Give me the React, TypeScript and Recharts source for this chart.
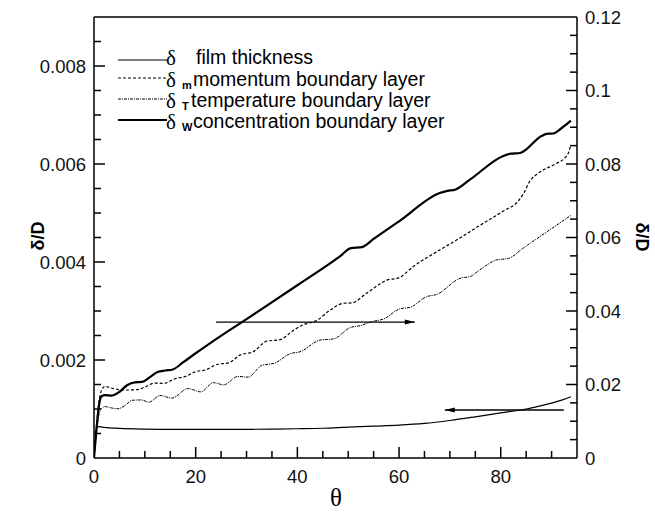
import React from 'react';
import { LineChart, Line, XAxis, YAxis, ReferenceLine, Customized } from 'recharts';

// film thickness, read on the left axis
const filmTheta = [0, 0.25, 0.5, 1, 2, 5, 10, 15, 20, 25, 30, 35, 40, 45, 50, 55, 60, 65, 70, 75, 80, 85, 88, 90, 92, 93.8];
const filmValue = [0, 0.00035, 0.00062, 0.00064, 0.000625, 0.000605, 0.00059, 0.000585, 0.000583, 0.000583, 0.000585, 0.00059, 0.000597, 0.000607, 0.00063, 0.00065, 0.00067, 0.000705, 0.000765, 0.00084, 0.00092, 0.001, 0.00107, 0.00112, 0.00118, 0.00125];

// boundary layers, read on the right axis
const momentumTheta = [0, 0.5, 1, 1.5, 2.2, 3, 4.5, 6.5, 8.5, 10, 12, 13.8, 15.8, 18, 20, 22, 24.3, 26.5, 28.7, 31.3, 34, 36.6, 39.2, 41.2, 43.8, 46.4, 49, 50.7, 53.6, 57.6, 59.9, 62.8, 68, 71.3, 75.9, 80.5, 83.5, 84.5, 85.8, 87.1, 91, 92.5, 93.3, 93.8];
const momentumValue = [0, 0.009, 0.0155, 0.0185, 0.0195, 0.0192, 0.0187, 0.0185, 0.0186, 0.0193, 0.0204, 0.0203, 0.0215, 0.0222, 0.0235, 0.024, 0.0255, 0.0259, 0.028, 0.0289, 0.0318, 0.0322, 0.0347, 0.0363, 0.0374, 0.0402, 0.0421, 0.0422, 0.0448, 0.0484, 0.049, 0.0521, 0.0566, 0.0593, 0.0633, 0.0672, 0.07, 0.072, 0.0755, 0.0772, 0.0802, 0.0815, 0.083, 0.0852];

const tempTheta = [0, 0.5, 1, 1.5, 2.2, 3.5, 4.7, 6, 7.5, 9.3, 10.8, 13, 15.3, 18.5, 21, 23.5, 25.5, 28.3, 30.3, 33, 35.5, 38.6, 40.5, 44.5, 47.1, 50.4, 52.3, 54.9, 56.9, 60.2, 62.2, 65.4, 67.4, 72, 74, 75.9, 79.2, 81.5, 84.4, 93.8];
const tempValue = [0, 0.007, 0.012, 0.0135, 0.014, 0.0136, 0.0134, 0.0142, 0.0157, 0.0158, 0.0152, 0.017, 0.0163, 0.0189, 0.018, 0.0205, 0.0199, 0.0222, 0.022, 0.0252, 0.0258, 0.0284, 0.0289, 0.0321, 0.0324, 0.0355, 0.036, 0.0372, 0.0378, 0.0406, 0.041, 0.0439, 0.0445, 0.0489, 0.0494, 0.0512, 0.0539, 0.0543, 0.0571, 0.066];

const concTheta = [0, 0.5, 1, 1.5, 2.2, 3.5, 5, 6.5, 8, 9.5, 11, 12.5, 14, 15.5, 17.5, 20, 22.8, 30, 40, 48.5, 50.5, 52.7, 55, 60, 68, 69.5, 71, 74, 80.5, 82, 83.8, 88, 89, 90.3, 92, 93.8];
const concValue = [0, 0.008, 0.0145, 0.0168, 0.0171, 0.017, 0.018, 0.0198, 0.0206, 0.0207, 0.022, 0.0234, 0.0238, 0.0241, 0.026, 0.0285, 0.0312, 0.0378, 0.047, 0.055, 0.0571, 0.0574, 0.0596, 0.0644, 0.0721, 0.0727, 0.073, 0.0758, 0.0822, 0.0828, 0.083, 0.0876, 0.0882, 0.0883, 0.0898, 0.0918];

const xTicks = [0, 5, 10, 15, 20, 25, 30, 35, 40, 45, 50, 55, 60, 65, 70, 75, 80, 85, 90];
const leftTicks = [0, 0.0005, 0.001, 0.0015, 0.002, 0.0025, 0.003, 0.0035, 0.004, 0.0045, 0.005, 0.0055, 0.006, 0.0065, 0.007, 0.0075, 0.008, 0.0085];
const rightTicks = [0, 0.005, 0.01, 0.015, 0.02, 0.025, 0.03, 0.035, 0.04, 0.045, 0.05, 0.055, 0.06, 0.065, 0.07, 0.075, 0.08, 0.085, 0.09, 0.095, 0.1, 0.105, 0.11, 0.115, 0.12];

const X_DOMAIN = [0, 95];
const LEFT_DOMAIN = [0, 0.009];
const RIGHT_DOMAIN = [0, 0.12];

const zip = (t: number[], v: number[]) => t.map((x, i) => ({ t: x, v: v[i] }));

const film = zip(filmTheta, filmValue);
const momentum = zip(momentumTheta, momentumValue);
const temperature = zip(tempTheta, tempValue);
const concentration = zip(concTheta, concValue);

const SANS = '"Liberation Sans", Arial, Helvetica, sans-serif';
const SERIF = '"Liberation Serif", "Times New Roman", serif';
const AX = '#000';
const MAJOR = 11;
const MINOR = 7;
const TICK_FONT = 18.5;

const isMajorX = (v: number) => v % 20 === 0;
const isMajorLeft = (v: number) => Math.round(v * 10000) % 20 === 0;
const isMajorRight = (v: number) => Math.round(v * 1000) % 20 === 0;

// bottom axis: inward mark + label for the majors
const BottomTick = ({ x, y, payload }: any) => {
  const v = payload.value;
  const major = isMajorX(v);
  return (
    <g>
      {v > 0 && <path d={`M${x},${y}V${y - (major ? MAJOR : MINOR)}`} stroke={AX} strokeWidth={1.5} fill="none" />}
      {major && (
        <text x={x} y={y + 25} textAnchor="middle" fontSize={TICK_FONT} fontFamily={SANS} fill="#111">
          {v}
        </text>
      )}
    </g>
  );
};

// top axis: marks only
const TopTick = ({ x, y, payload }: any) => {
  const v = payload.value;
  if (v <= 0) return <g />;
  return <path d={`M${x},${y}V${y + (isMajorX(v) ? MAJOR : MINOR)}`} stroke={AX} strokeWidth={1.5} fill="none" />;
};

const LeftLabel = ({ x, y, payload }: any) =>
  isMajorLeft(payload.value) ? (
    <text x={x - 8} y={y + 6.5} textAnchor="end" fontSize={TICK_FONT} fontFamily={SANS} fill="#111">
      {String(Number(payload.value.toFixed(4)))}
    </text>
  ) : (
    <g />
  );

const RightLabel = ({ x, y, payload }: any) =>
  isMajorRight(payload.value) ? (
    <text x={x + 8} y={y + 6.5} textAnchor="start" fontSize={TICK_FONT} fontFamily={SANS} fill="#111">
      {String(Number(payload.value.toFixed(2)))}
    </text>
  ) : (
    <g />
  );

// horizontal reference line -> inward mark on one side only
const YMark = (p: any) => {
  const len = p.major ? MAJOR : MINOR;
  const x0 = p.side === 'left' ? Math.min(p.x1, p.x2) : Math.max(p.x1, p.x2);
  const dir = p.side === 'left' ? 1 : -1;
  return <path d={`M${x0},${p.y1}H${x0 + dir * len}`} stroke={AX} strokeWidth={1.5} fill="none" />;
};

const Arrow = (p: any) => {
  const { x1, y1, x2, y2 } = p;
  const dir = Math.sign(x2 - x1);
  return (
    <g>
      <line x1={x1} y1={y1} x2={x2} y2={y2} stroke="#000" strokeWidth={1.3} />
      <polygon points={`${x2},${y2} ${x2 - dir * 10},${y2 - 2.5} ${x2 - dir * 10},${y2 + 2.5}`} fill="#000" />
    </g>
  );
};

const legendRows = [
  { label: 'film thickness', sub: '', dash: undefined, width: 1.2, tx: 196, line: 60, base: 64 },
  { label: 'momentum boundary layer', sub: 'm', dash: '3 2', width: 1.2, tx: 193, line: 78, base: 86 },
  { label: 'temperature boundary layer', sub: 'T', dash: '3 1 1 1', width: 1, tx: 191, line: 99, base: 107 },
  { label: 'concentration boundary layer', sub: 'W', dash: undefined, width: 2.2, tx: 193, line: 120, base: 128 },
];

const Decorations = () => (
  <g>
    {legendRows.map((r) => (
      <g key={r.label}>
        <line x1={118} x2={167} y1={r.line} y2={r.line} stroke="#000" strokeWidth={r.width} strokeDasharray={r.dash} />
        <text x={166} y={r.base + 1} fontSize={21} fontFamily={SERIF} fill="#000">δ</text>
        {r.sub && (
          <text x={182} y={r.base + 3} fontSize={11} fontWeight="bold" fontFamily={SANS} fill="#000">{r.sub}</text>
        )}
        <text x={r.tx} y={r.base} fontSize={19.5} fontFamily={SANS} fill="#000">{r.label}</text>
      </g>
    ))}
    <text x={0} y={0} transform="translate(44,236) rotate(-90)" textAnchor="middle" fontSize={18} fontWeight="bold" fontFamily={SANS} fill="#000">
      δ/D
    </text>
    <text x={0} y={0} transform="translate(636,237) rotate(90)" textAnchor="middle" fontSize={18} fontWeight="bold" fontFamily={SANS} fill="#000">
      δ/D
    </text>
    <text x={336} y={506} textAnchor="middle" fontSize={25} fontFamily={SERIF} fill="#000">θ</text>
  </g>
);

const axisLine = { stroke: AX, strokeWidth: 1.5 };

export default function App() {
  return (
    <div style={{ position: 'absolute', left: 0, top: 0, background: '#fff' }}>
      <LineChart width={655} height={513} margin={{ top: 16, right: 0, bottom: 0, left: 0 }}>
        <XAxis
          xAxisId="bottom"
          dataKey="t"
          type="number"
          domain={X_DOMAIN}
          ticks={xTicks}
          interval={0}
          height={55}
          tickSize={0}
          tickMargin={0}
          tickLine={false}
          tick={<BottomTick />}
          axisLine={axisLine}
          allowDataOverflow
        />
        <XAxis
          xAxisId="top"
          orientation="top"
          type="number"
          domain={X_DOMAIN}
          ticks={xTicks}
          interval={0}
          height={1}
          tickSize={0}
          tickMargin={0}
          tickLine={false}
          tick={<TopTick />}
          axisLine={axisLine}
          allowDataOverflow
        />
        <YAxis
          yAxisId="left"
          type="number"
          domain={LEFT_DOMAIN}
          ticks={leftTicks}
          interval={0}
          width={94}
          tickSize={0}
          tickMargin={0}
          tickLine={false}
          tick={<LeftLabel />}
          axisLine={axisLine}
          allowDataOverflow
        />
        <YAxis
          yAxisId="right"
          orientation="right"
          type="number"
          domain={RIGHT_DOMAIN}
          ticks={rightTicks}
          interval={0}
          width={78}
          tickSize={0}
          tickMargin={0}
          tickLine={false}
          tick={<RightLabel />}
          axisLine={axisLine}
          allowDataOverflow
        />

        {leftTicks.filter((v) => v > 0).map((v) => (
          <ReferenceLine key={`l${v}`} xAxisId="bottom" yAxisId="left" y={v} ifOverflow="visible" shape={(p: any) => <YMark {...p} side="left" major={isMajorLeft(v)} />} />
        ))}
        {rightTicks.filter((v) => v > 0 && v < 0.12).map((v) => (
          <ReferenceLine key={`r${v}`} xAxisId="bottom" yAxisId="right" y={v} ifOverflow="visible" shape={(p: any) => <YMark {...p} side="right" major={isMajorRight(v)} />} />
        ))}

        <Line xAxisId="bottom" yAxisId="left" data={film} dataKey="v" type="monotone" stroke="#000" strokeWidth={1.2} dot={false} isAnimationActive={false} />
        <Line xAxisId="bottom" yAxisId="right" data={momentum} dataKey="v" type="monotone" stroke="#000" strokeWidth={1.2} strokeDasharray="3 2" dot={false} isAnimationActive={false} />
        <Line xAxisId="bottom" yAxisId="right" data={temperature} dataKey="v" type="monotone" stroke="#000" strokeWidth={1} strokeDasharray="3 1 1 1" dot={false} isAnimationActive={false} />
        <Line xAxisId="bottom" yAxisId="right" data={concentration} dataKey="v" type="monotone" stroke="#000" strokeWidth={2.2} dot={false} isAnimationActive={false} />

        <ReferenceLine xAxisId="bottom" yAxisId="right" segment={[{ x: 24, y: 0.037 }, { x: 63.1, y: 0.037 }]} shape={<Arrow />} />
        <ReferenceLine xAxisId="bottom" yAxisId="left" segment={[{ x: 92.4, y: 0.00098 }, { x: 69, y: 0.00098 }]} shape={<Arrow />} />

        <Customized component={<Decorations />} />
      </LineChart>
    </div>
  );
}
